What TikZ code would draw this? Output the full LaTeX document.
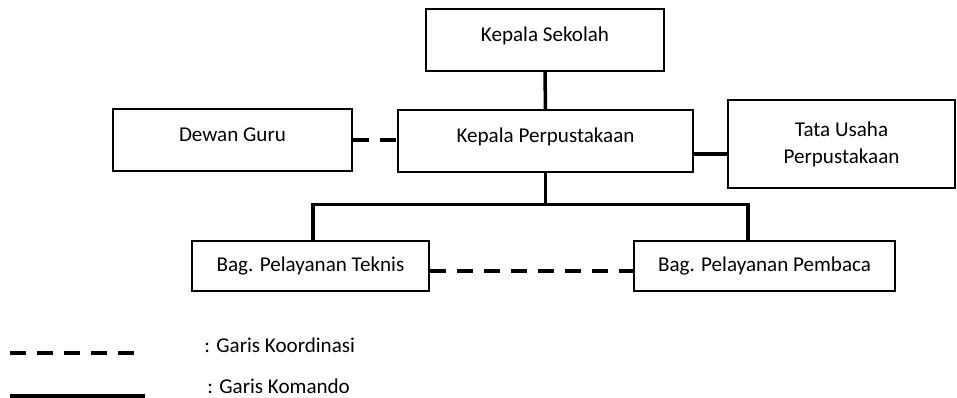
\documentclass[tikz,border=0pt]{standalone}
\usepackage{fontspec}
\setmainfont{Carlito}
\usetikzlibrary{calc}

\begin{document}
\begin{tikzpicture}[
  x=0.02cm, y=-0.02cm,
  font=\fontsize{12pt}{14.5pt}\selectfont,
  unit/.style={draw, line width=0.8pt, inner sep=2pt, align=center, minimum height=1.24cm},
  lift/.style={text height=8pt, text depth=6.5pt},
  cmd/.style={line width=2pt},
  koord/.style={line width=2pt, dash pattern=on 0.33cm off 0.21cm},
  key/.style={anchor=west, inner sep=0pt},
]
\useasboundingbox (0,0) rectangle (957,398);
% boxes
\node[unit, lift, minimum width=4.76cm] (ks) at (545,40) {Kepala Sekolah};
\node[unit, lift, minimum width=5.9cm] (kp) at (545.5,141) {Kepala Perpustakaan};
\node[unit, lift, minimum width=4.78cm] (dg) at (232.5,140) {Dewan Guru};
\node[unit, minimum width=4.54cm, minimum height=1.76cm] (tu) at (841.5,144)
   {Tata Usaha\\[1pt]Perpustakaan};
\node[unit, minimum width=4.74cm, minimum height=1.0cm] (bt) at (310.5,266) {Bag. Pelayanan Teknis};
\node[unit, minimum width=5.22cm, minimum height=1.0cm] (bp) at (764.5,266) {Bag. Pelayanan Pembaca};
% command lines
\draw[cmd] (ks.south) -- (kp.north);
\coordinate (tj) at ($(kp.east)+(0,13)$);
\draw[cmd] (tj) -- (tj -| tu.west);
\coordinate (br) at ($(kp.south)+(0,32)$);
\draw[cmd] (kp.south) -- (br);
\draw[cmd] ([xshift=0.05cm]bt.north) |- (br) -| ([xshift=-0.33cm]bp.north);
% coordination lines
\draw[koord] (dg.east) -- (kp.west |- dg.east);
\draw[koord] ([yshift=-0.1cm]bt.east) -- ([yshift=-0.1cm]bp.west);
% legend
\coordinate (d1) at (10,353);
\coordinate (d2) at (137,353);
\coordinate (s1) at (10,396);
\coordinate (s2) at (145,396);
\draw[koord] (d1) -- (d2);
\draw[cmd] (s1) -- (s2);
\node[key] (kk) at (204,345) {: Garis Koordinasi};
\node[key] (km) at (207,386) {: Garis Komando};
\end{tikzpicture}
\end{document}
